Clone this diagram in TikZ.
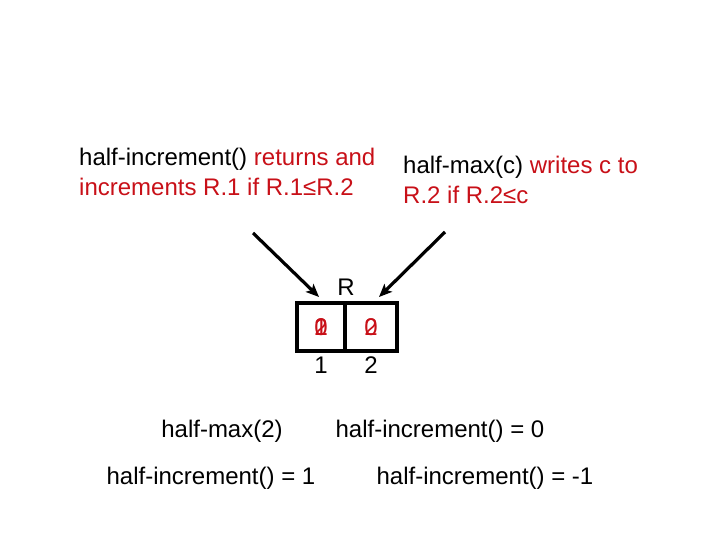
\documentclass[tikz,border=0pt]{standalone}
\usepackage{fontspec}
\setmainfont{Liberation Sans}
\usepackage{xcolor}
\usetikzlibrary{positioning,arrows.meta}
\definecolor{cred}{RGB}{200,16,24}

\begin{document}
\begin{tikzpicture}[
  x=1pt,y=-1pt,
  font=\fontsize{24}{30}\selectfont,
  t/.style={inner sep=0,align=left},
  cell/.style={rectangle,draw=black,line width=3.4pt,minimum width=48pt,minimum height=48pt,inner sep=0},
  v/.style={inner sep=0,text=cred},
  a/.style={-{Stealth[length=13pt,width=11pt,inset=3pt]},line width=3.2pt},
]
\useasboundingbox (0,0) rectangle (720,540);
% --- the two operations ---
\node[t,anchor=west] (inc) at (79,172) {half-increment() \textcolor{cred}{returns and}\\\textcolor{cred}{increments R.1 if R.1≤R.2}};
\node[t,anchor=west] (max) at (403,180) {half-max(c) \textcolor{cred}{writes c to}\\\textcolor{cred}{R.2 if R.2≤c}};
% --- register R ---
\node[cell] (r1) at (321,327) {};
\node[cell,minimum width=52pt,right=-3.4pt of r1] (r2) {};
\node (R) at (346,287) {R};
\node[below=1pt of r1] (l1) {1};
\node[below=1pt of r2] (l2) {2};
% overlaid values (one per step)
\node[v] (r1a) at (r1) {0}; \node[v] (r1b) at (r1) {1}; \node[v] (r1c) at (r1) {2};
\node[v] (r2a) at (r2) {0}; \node[v] (r2b) at (r2) {2};
% --- arrows ---
\coordinate (ia) at (253,233); \coordinate (ib) at (319,297);
\coordinate (ma) at (445,232); \coordinate (mb) at (379,297);
\draw[a] (ia)--(ib);
\draw[a] (ma)--(mb);
% --- calls and results ---
\node (c1) at (222,431) {half-max(2)};
\node (c2) at (440,431) {half-increment() = 0};
\node (c3) at (211,478) {half-increment() = 1};
\node (c4) at (485,478) {half-increment() = -1};
\end{tikzpicture}
\end{document}
